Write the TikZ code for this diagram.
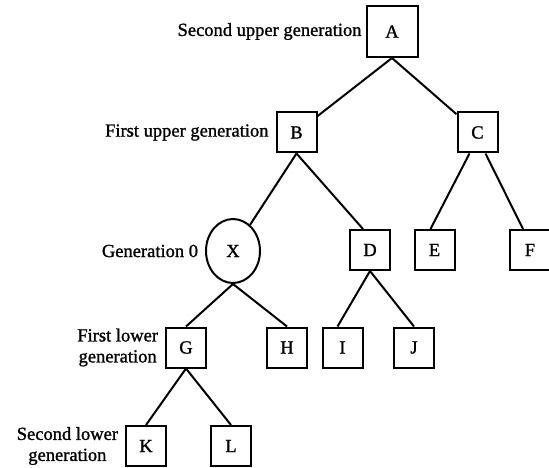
\documentclass[tikz,border=0pt]{standalone}
\usepackage{fontspec}
\setmainfont{Liberation Serif}[BoldFont=Liberation Serif,BoldFeatures={FakeBold=1.2}]
\usetikzlibrary{positioning,shapes.geometric}

\begin{document}
\begin{tikzpicture}[x=1pt,y=1pt,line width=2pt,
        font=\fontsize{18.5}{21}\selectfont\bfseries,node distance=6pt,
        box/.style={draw,minimum size=40pt,inner sep=0pt},
        oval/.style={draw,ellipse,minimum width=54pt,minimum height=64pt,inner sep=0pt},
        lbl/.style={inner sep=0pt,align=center}]
  \useasboundingbox (0,0) rectangle (549,-468);
  \node[box,minimum size=51pt] (A) at (392,-31.5) {A};
  \node[box] (B) at (296.5,-132.5) {B};
  \node[box] (C) at (477.5,-132.5) {C};
  \node[oval] (X) at (233,-251) {X};
  \node[box] (D) at (370,-250) {D};
  \node[box] (E) at (434.5,-250) {E};
  \node[box] (F) at (530,-250) {F};
  \node[box] (G) at (186,-347.5) {G};
  \node[box] (H) at (287,-347.5) {H};
  \node[box] (I) at (342.5,-347.5) {I};
  \node[box] (J) at (414,-347.5) {J};
  \node[box] (K) at (146,-446) {K};
  \node[box] (L) at (231,-446) {L};
  \node[lbl,left=3pt of A] (lA) {Second upper generation};
  \node[lbl,left=of B] (lB) {First upper generation};
  \node[lbl,left=of X] (lX) {Generation 0};
  \node[lbl,left=of G] (lG) {First lower\\generation};
  \node[lbl,left=of K] (lK) {Second lower\\generation};
  \draw (A.south) -- (B);
  \draw (A.south) -- (C);
  \draw (B.south) -- (X);
  \draw (B.south) -- ([xshift=-7pt]D.north);
  \draw ([xshift=-8pt]C.south) -- ([xshift=-4pt]E.north);
  \draw ([xshift=8pt]C.south) -- ([xshift=-7pt]F.north);
  \draw (X.south) -- (G.north);
  \draw (X.south) -- (H.north);
  \draw (D.south) -- ([xshift=-5pt]I.north);
  \draw (D.south) -- (J.north);
  \draw (G.south) -- (K.north);
  \draw (G.south) -- (L.north);
\end{tikzpicture}
\end{document}
